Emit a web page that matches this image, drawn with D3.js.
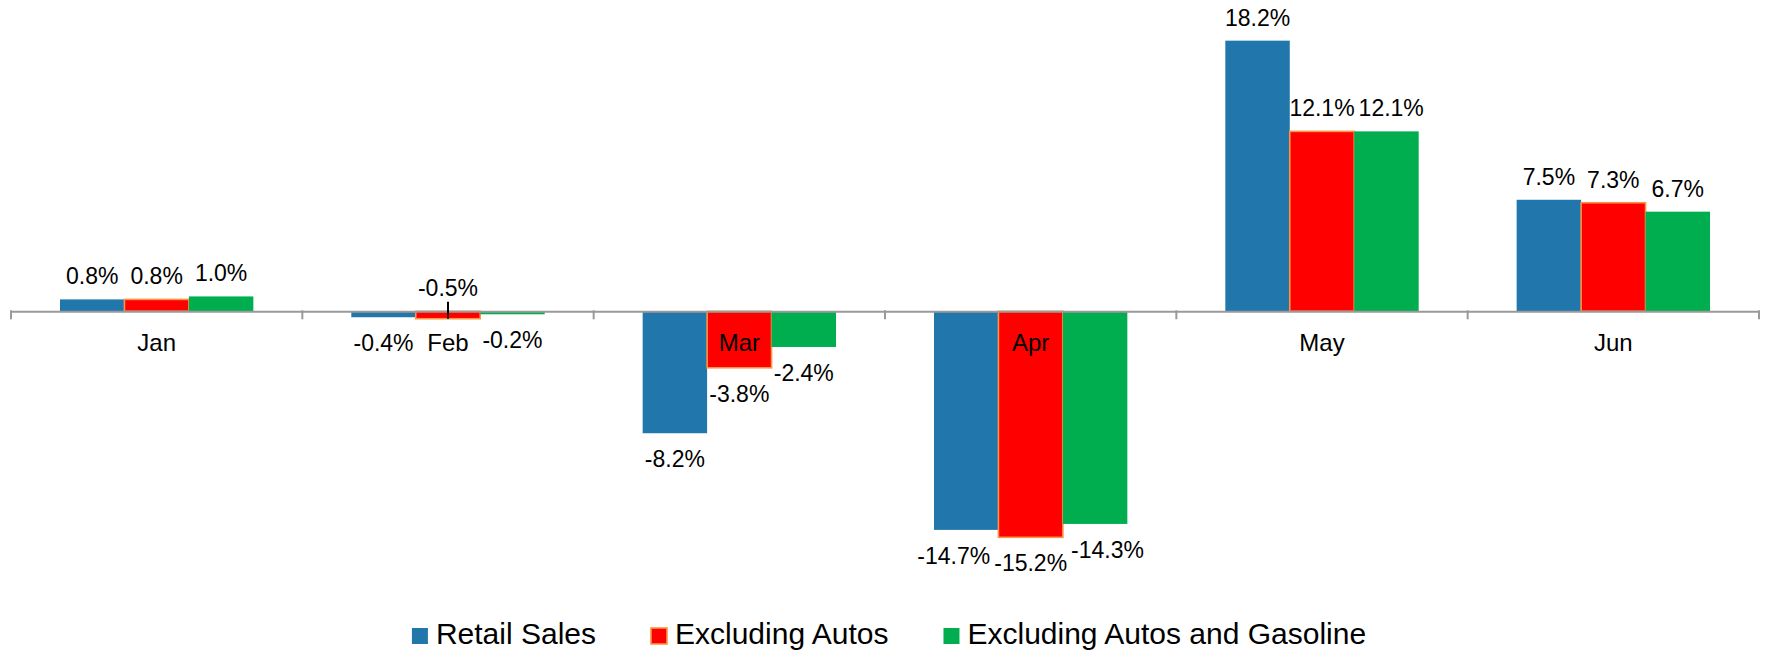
<!DOCTYPE html>
<html>
<head>
<meta charset="utf-8">
<script src="https://cdn.jsdelivr.net/npm/d3@7/dist/d3.min.js"></script>
<style>
  html, body { margin: 0; padding: 0; background: #ffffff; }
  svg { display: block; font-family: "Liberation Sans", Arial, sans-serif; }
</style>
</head>
<body>
<svg id="chart" width="1765" height="653"></svg>
<script>
// Monthly retail sales change, % month over month
const months = ["Jan", "Feb", "Mar", "Apr", "May", "Jun"];
const seriesNames = ["Retail Sales", "Excluding Autos", "Excluding Autos and Gasoline"];
const retailSales = [0.8, -0.4, -8.2, -14.7, 18.2, 7.5];
const excludingAutos = [0.8, -0.5, -3.8, -15.2, 12.1, 7.3];
const excludingAutosGasoline = [1.0, -0.2, -2.4, -14.3, 12.1, 6.7];

// Labels lifted above the axis with a leader line (bar too short to hold them)
const liftedLabels = [["Feb", "Excluding Autos"]];

const seriesValues = [retailSales, excludingAutos, excludingAutosGasoline];
const colors = ["#2177ab", "#ff0000", "#00ae50"];
const strokes = [null, "#f79646", null];

const svg = d3.select("#chart");

const x0 = d3.scaleBand().domain(months).range([11, 1759]);
const x1 = d3.scaleBand().domain(seriesNames).range([0, x0.bandwidth()]).paddingOuter(0.76);

const zeroY = 311.3, pxPerPct = 14.87;
const y = d3.scaleLinear().domain([-16, 20]).range([zeroY + 16 * pxPerPct, zeroY - 20 * pxPerPct]);

const rows = months.map((m, i) => ({
  month: m,
  values: seriesNames.map((s, j) => ({ month: m, series: s, idx: j, value: seriesValues[j][i] }))
}));

// Bars
const groups = svg.append("g").selectAll("g").data(rows).join("g")
  .attr("transform", d => `translate(${x0(d.month)},0)`);

groups.selectAll("rect").data(d => d.values).join("rect")
  .attr("x", d => x1(d.series))
  .attr("width", x1.bandwidth())
  .attr("y", d => y(Math.max(0, d.value)))
  .attr("height", d => Math.abs(y(d.value) - y(0)))
  .attr("fill", d => colors[d.idx])
  .attr("stroke", d => strokes[d.idx] || "none")
  .attr("stroke-width", d => strokes[d.idx] ? 1.6 : 0);

// Axis line and category labels
const axis = d3.axisBottom(x0).tickSize(0).tickSizeOuter(0).tickPadding(0);
const axisG = svg.append("g").attr("transform", `translate(0,${zeroY})`).call(axis);
axisG.select(".domain").attr("stroke", "#9a9a9a").attr("stroke-width", 2);
axisG.selectAll(".tick text")
  .attr("y", 39.7).attr("dy", 0)
  .attr("font-size", 24)
  .attr("font-family", "\"Liberation Sans\", Arial, sans-serif")
  .attr("fill", "#000");

// Tick marks between categories
const boundaries = months.map(m => x0(m)).concat([x0.range()[1]]);
axisG.selectAll("line.bound").data(boundaries).join("line")
  .attr("class", "bound")
  .attr("x1", d => d).attr("x2", d => d)
  .attr("y1", -1).attr("y2", 8)
  .attr("stroke", "#9a9a9a").attr("stroke-width", 2);

// Data labels
const fmt = v => (v < 0 ? "-" : "") + Math.abs(v).toFixed(1) + "%";
const measure = svg.append("text").attr("font-size", 23).attr("visibility", "hidden");
const textWidth = s => { measure.text(s); return measure.node().getComputedTextLength(); };

const isLifted = d => liftedLabels.some(([m, s]) => m === d.month && s === d.series);

const labels = [];
rows.forEach(r => {
  const ls = r.values.map(d => {
    const cx = x0(d.month) + x1(d.series) + x1.bandwidth() / 2;
    let base;
    if (isLifted(d)) base = y(0) - 15;
    else if (d.value >= 0) base = y(d.value) - 15;
    else base = y(d.value) + 34;
    const text = fmt(d.value);
    return { d, x: cx, y: base, text, w: textWidth(text), lifted: isLifted(d) };
  });
  // push outer labels away from the middle one where they collide
  const pushApart = (a, b, moveLeft) => {
    if (Math.abs(a.y - b.y) >= 17) return;
    const o = (a.x + a.w / 2 + 4) - (b.x - b.w / 2);
    if (o > 0) { if (moveLeft) a.x -= o; else b.x += o; }
  };
  pushApart(ls[0], ls[1], true);
  pushApart(ls[1], ls[2], false);
  labels.push(...ls);
});
measure.remove();

const labelG = svg.append("g");
labelG.selectAll("line").data(labels.filter(l => l.lifted)).join("line")
  .attr("x1", l => l.x).attr("x2", l => l.x)
  .attr("y1", y(0) - 9.6).attr("y2", l => y(l.d.value))
  .attr("stroke", "#000").attr("stroke-width", 2);

labelG.selectAll("text").data(labels).join("text")
  .attr("x", l => l.x).attr("y", l => l.y)
  .attr("text-anchor", "middle")
  .attr("font-size", 23)
  .attr("fill", "#000")
  .text(l => l.text);

// Legend
const legendG = svg.append("g");
const items = legendG.selectAll("g").data(seriesNames).join("g");
items.append("rect")
  .attr("width", 16).attr("height", 16)
  .attr("y", 628)
  .attr("fill", (d, i) => colors[i])
  .attr("stroke", (d, i) => strokes[i] || "none")
  .attr("stroke-width", (d, i) => strokes[i] ? 1.6 : 0);
items.append("text")
  .attr("x", 24).attr("y", 644.3)
  .attr("font-size", 30)
  .attr("fill", "#000")
  .text(d => d);

const widths = [];
items.each(function () { widths.push(24 + d3.select(this).select("text").node().getComputedTextLength()); });
const gap = 55;
const total = d3.sum(widths) + gap * (widths.length - 1);
let cursor = 889 - total / 2;
items.each(function (d, i) {
  d3.select(this).attr("transform", `translate(${cursor},0)`);
  cursor += widths[i] + gap;
});
</script>
</body>
</html>
